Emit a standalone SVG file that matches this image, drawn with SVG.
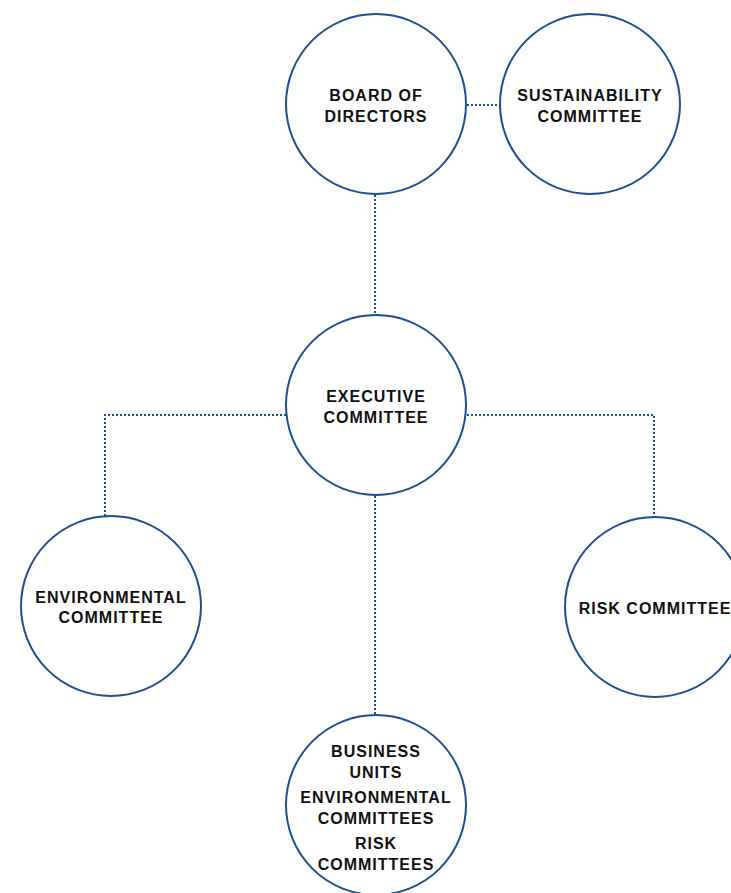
<svg xmlns="http://www.w3.org/2000/svg" width="731" height="893" viewBox="0 0 731 893">
<style>
.node circle{fill:#fff;stroke:#1d4f91;stroke-width:2}
.node text{font-family:"Liberation Sans",Arial,sans-serif;font-weight:bold;font-size:16px;fill:#111;text-anchor:middle;letter-spacing:1px}
.conn path{fill:none;stroke:#1d4f91;stroke-width:2;stroke-dasharray:2 2}
</style>
<rect width="731" height="893" fill="#fff"/>
<g id="connectors" class="conn">
<path d="M467 105H500"/>
<path d="M375 195V315"/>
<path d="M286 415H105V516"/>
<path d="M467 415H654V517"/>
<path d="M375 496V715"/>
</g>
<g id="board" class="node"><circle cx="376" cy="104" r="90"/><text x="376" y="101">BOARD OF</text><text x="376" y="122">DIRECTORS</text></g>
<g id="sustainability" class="node"><circle cx="590" cy="104" r="90"/><text x="590" y="101">SUSTAINABILITY</text><text x="590" y="122">COMMITTEE</text></g>
<g id="executive" class="node"><circle cx="376" cy="405" r="90"/><text x="376" y="402">EXECUTIVE</text><text x="376" y="423">COMMITTEE</text></g>
<g id="environmental" class="node"><circle cx="111" cy="606" r="90"/><text x="111" y="603">ENVIRONMENTAL</text><text x="111" y="623">COMMITTEE</text></g>
<g id="risk" class="node"><circle cx="655" cy="607" r="90"/><text x="655" y="614">RISK COMMITTEE</text></g>
<g id="business" class="node"><circle cx="376" cy="805" r="90"/><text x="376" y="757">BUSINESS</text><text x="376" y="778">UNITS</text><text x="376" y="803">ENVIRONMENTAL</text><text x="376" y="824">COMMITTEES</text><text x="376" y="849">RISK</text><text x="376" y="870">COMMITTEES</text></g>
</svg>
